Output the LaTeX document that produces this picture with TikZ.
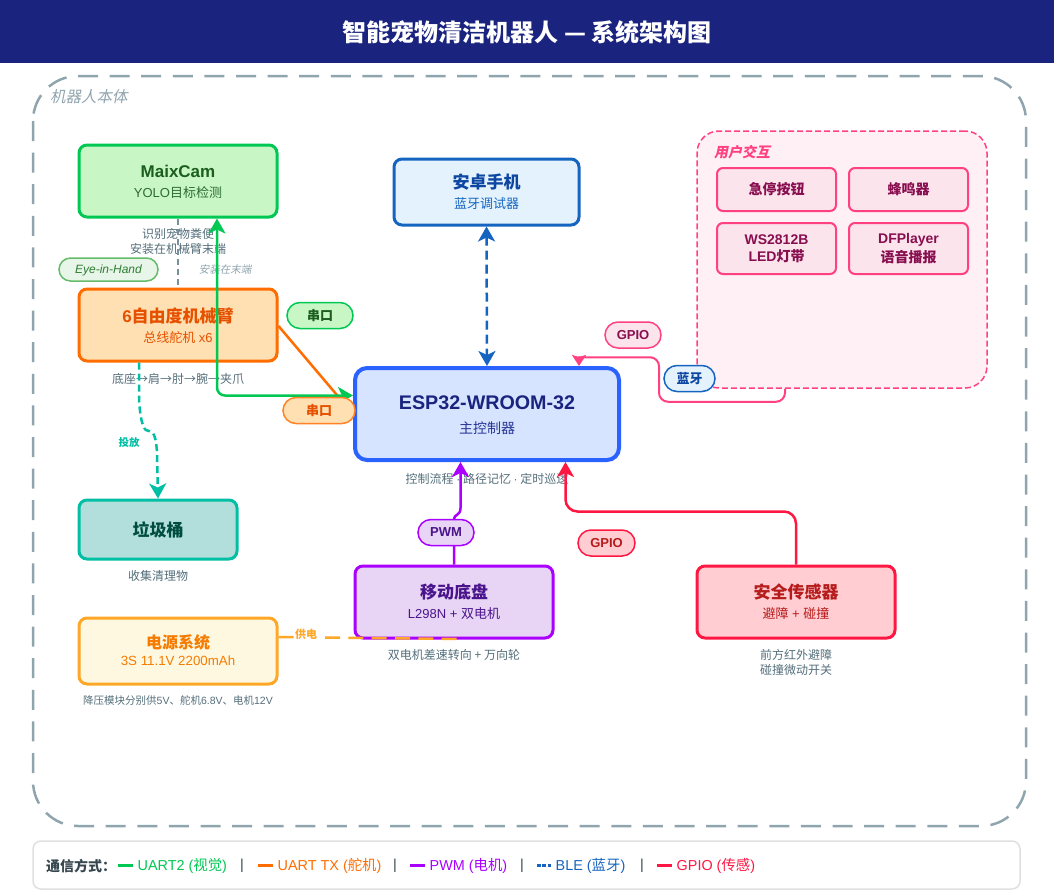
\documentclass[tikz,border=0pt]{standalone}
\usepackage{fontspec}
\setmainfont{Liberation Sans}
\newfontfamily\cjk{Noto Sans CJK SC}
\newfontfamily\cjki[FakeSlant=0.2]{Noto Sans CJK SC}
\newfontfamily\lat{Liberation Sans}
\usetikzlibrary{arrows.meta}
\newcommand\fsz[1]{\fontsize{#1}{#1}\selectfont}
\newcommand\zh[1]{{\cjk #1}}
\newcommand\la[1]{{\lat #1}}
\newcommand\lgdash{\rule[4pt]{15pt}{2.2pt}\hspace{4.5pt}}
\newcommand\lgdots{\rule[4pt]{3.6pt}{2.2pt}\hspace{1.6pt}\rule[4pt]{3.6pt}{2.2pt}\hspace{1.6pt}\rule[4pt]{3.6pt}{2.2pt}\hspace{4.5pt}}
\definecolor{cTitle}{HTML}{1A237E}
\definecolor{cBody}{HTML}{90A4AE}
\definecolor{cNote}{HTML}{546E7A}
\definecolor{cGreen}{HTML}{00C853}
\definecolor{cGreenF}{HTML}{C8F7C5}
\definecolor{cGreenD}{HTML}{1B5E20}
\definecolor{cGreenM}{HTML}{2E6B34}
\definecolor{cOrange}{HTML}{FF6D00}
\definecolor{cOrangeD}{HTML}{E65100}
\definecolor{cOrangeF}{HTML}{FFE0B2}
\definecolor{cBlue}{HTML}{1565C0}
\definecolor{cBlueD}{HTML}{0D47A1}
\definecolor{cBlueF}{HTML}{E3F2FD}
\definecolor{cEsp}{HTML}{2962FF}
\definecolor{cEspF}{HTML}{D6E4FF}
\definecolor{cEspS}{HTML}{283593}
\definecolor{cPink}{HTML}{FF4081}
\definecolor{cPinkF}{HTML}{FCE4EC}
\definecolor{cPinkBg}{HTML}{FFF0F5}
\definecolor{cMiniText}{HTML}{880E4F}
\definecolor{cPurple}{HTML}{AA00FF}
\definecolor{cPurpleD}{HTML}{4A148C}
\definecolor{cPurpleF}{HTML}{E8D5F5}
\definecolor{cRed}{HTML}{FF1744}
\definecolor{cRedD}{HTML}{B71C1C}
\definecolor{cRedF}{HTML}{FFCDD2}
\definecolor{cTeal}{HTML}{00BFA5}
\definecolor{cTealD}{HTML}{004D40}
\definecolor{cTealF}{HTML}{B2DFDB}
\definecolor{cAmber}{HTML}{FFA726}
\definecolor{cAmberT}{HTML}{F57C00}
\definecolor{cAmberF}{HTML}{FFF8E1}
\definecolor{cEyeF}{HTML}{E8F5E9}
\definecolor{cEyeS}{HTML}{66BB6A}
\definecolor{cEyeT}{HTML}{2E7D32}
\definecolor{cGrayL}{HTML}{78909C}
\definecolor{cSep}{HTML}{37474F}
\definecolor{cLegB}{HTML}{E0E0E0}
\tikzset{
  bx/.style={draw,rounded corners=8,line width=3,inner sep=0,align=center,anchor=center},
  mini/.style={draw=cPink,fill=cPinkF,rounded corners=6,line width=2,inner sep=0,align=center,text=cMiniText,font=\cjk\bfseries\fsz{14}},
  pill/.style={draw,rounded corners=13,line width=1.5,minimum height=26,inner sep=0,font=\cjk\bfseries\fsz{13}},
  note/.style={inner sep=0,text=cNote,align=center,font=\cjk\fsz{12}},
  lg/.style={inner sep=0,anchor=west,font=\fsz{14.4}},
  tipa/.style={-{Stealth[length=15pt,width=17pt,inset=4pt]}},
  tipb/.style={{Stealth[length=15pt,width=17pt,inset=4pt]}-{Stealth[length=15pt,width=17pt,inset=4pt]}},
}
\begin{document}
\begin{tikzpicture}[x=1pt,y=-1pt]
\useasboundingbox (0,0) rectangle (1054,891);
% title
\fill[cTitle] (0,0) rectangle (1054,63);
\node[text=white,inner sep=0,font=\cjk\bfseries\fsz{24}] (title) at (527,32) {智能宠物清洁机器人 — 系统架构图};
% body
\draw[cBody,line width=2.5,dash pattern=on 20pt off 11.6pt,rounded corners=45] (33,76) rectangle (1026,826);
\node[inner sep=0,anchor=west,text=cBody,font=\cjki\fsz{15.5}] (bodyl) at (50,97) {机器人本体};
% notes
\node[note] (n1) at (178,241.5) {识别宠物粪便\\[3pt]安装在机械臂末端};
\node[note] (n2) at (178,379) {底座→肩→肘→腕→夹爪};
\node[note] (n3) at (487,479) {控制流程 \la{·} 路径记忆 \la{·} 定时巡逻};
\node[note] (n4) at (158,576) {收集清理物};
\node[note] (n5) at (454,655) {双电机差速转向 + 万向轮};
\node[note] (n6) at (796,662.5) {前方红外避障\\[3pt]碰撞微动开关};
\node[note,font=\cjk\fsz{10.5}] (n7) at (178,701) {降压模块分别供\la{5V}、舵机\la{6.8V}、电机\la{12V}};
\node[inner sep=0,text=cBody,font=\cjki\fsz{10.5}] (n8) at (225,270) {安装在末端};
% boxes
\node[bx,draw=cGreen,fill=cGreenF,minimum width=198,minimum height=72] (maix) at (178,181) {};
\node[inner sep=0,text=cGreenD,font=\bfseries\fsz{17}] (maixa) at (178,171) {MaixCam};
\node[inner sep=0,text=cGreenM,font=\fsz{13}] (maixb) at (178,193) {YOLO\zh{目标检测}};
\node[bx,draw=cOrange,fill=cOrangeF,minimum width=198,minimum height=72] (arm) at (178,325) {};
\node[inner sep=0,text=cOrangeD,font=\bfseries\fsz{17}] (arma) at (178,316) {6\zh{自由度机械臂}};
\node[inner sep=0,text=cOrangeD,font=\fsz{13}] (armb) at (178,338) {\zh{总线舵机} x6};
\node[bx,draw=cBlue,fill=cBlueF,minimum width=185,minimum height=66] (phone) at (486.5,192) {};
\node[inner sep=0,text=cBlueD,font=\cjk\bfseries\fsz{17}] (phonea) at (486.5,182) {安卓手机};
\node[inner sep=0,text=cBlue,font=\cjk\fsz{13}] (phoneb) at (486.5,204) {蓝牙调试器};
\node[bx,draw=cEsp,fill=cEspF,line width=4,rounded corners=12,minimum width=264,minimum height=92] (esp) at (487,414) {};
\node[inner sep=0,text=cTitle,font=\bfseries\fsz{19.7}] (espa) at (487,403) {ESP32-WROOM-32};
\node[inner sep=0,text=cEspS,font=\cjk\fsz{14}] (espb) at (487,428) {主控制器};
\node[bx,draw=cTeal,fill=cTealF,minimum width=158,minimum height=59] (bin) at (158,529.5) {};
\node[inner sep=0,text=cTealD,font=\cjk\bfseries\fsz{17}] (bina) at (158,530) {垃圾桶};
\node[bx,draw=cPurple,fill=cPurpleF,minimum width=198,minimum height=72] (chassis) at (454,602) {};
\node[inner sep=0,text=cPurpleD,font=\cjk\bfseries\fsz{17}] (chassisa) at (454,592) {移动底盘};
\node[inner sep=0,text=cPurpleD,font=\fsz{13}] (chassisb) at (454,614) {L298N + \zh{双电机}};
\node[bx,draw=cRed,fill=cRedF,minimum width=198,minimum height=72] (safe) at (796,602) {};
\node[inner sep=0,text=cRedD,font=\cjk\bfseries\fsz{17}] (safea) at (796,592) {安全传感器};
\node[inner sep=0,text=cRedD,font=\fsz{13}] (safeb) at (796,614) {\zh{避障} + \zh{碰撞}};
\node[bx,draw=cAmber,fill=cAmberF,minimum width=198,minimum height=66] (power) at (178,651) {};
\node[inner sep=0,text=cAmberT,font=\cjk\bfseries\fsz{16}] (powera) at (178,642) {电源系统};
\node[inner sep=0,text=cAmberT,font=\fsz{13.3}] (powerb) at (178,661) {3S 11.1V 2200mAh};
% user group
\node[draw=cPink,fill=cPinkBg,dash pattern=on 6pt off 3pt,line width=1.5,rounded corners=22,inner sep=0,minimum width=290,minimum height=257] (ui) at (842,259.5) {};
\node[inner sep=0,anchor=west,text=cPink,font=\cjki\bfseries\fsz{14}] (uil) at (714,152) {用户交互};
\node[mini,minimum width=119,minimum height=43] (m1) at (776.5,189.5) {急停按钮};
\node[mini,minimum width=119,minimum height=43] (m2) at (908.5,189.5) {蜂鸣器};
\node[mini,minimum width=119,minimum height=51] (m3) at (776.5,248.5) {\la{WS2812B}\\[3pt]\la{LED}灯带};
\node[mini,minimum width=119,minimum height=51] (m4) at (908.5,248.5) {\la{DFPlayer}\\[3pt]语音播报};
% connectors
\draw[cGrayL,line width=2,dash pattern=on 6pt off 4pt] (maix.south) -- (arm.north);
\draw[cTeal,line width=2.5,dash pattern=on 7pt off 4pt,tipa] ([xshift=-39pt]arm.south) -- (139,400) .. controls (141,428) and (145,431) .. (149,431) .. controls (155,432) and (156,440) .. (157,452) -- (bin.north);
\draw[cOrange,line width=2.5] ([yshift=-1pt]arm.east) -- (esp.west);
\draw[cGreen,line width=2.5,rounded corners=8,tipb] ([yshift=18.5pt]esp.west) -| ([xshift=39pt]maix.south);
\draw[cBlue,line width=2.5,dash pattern=on 9pt off 5pt,tipb] (phone.south) -- (esp.north);
\draw[cPink,line width=2,rounded corners=9,-{Stealth[length=11pt,width=14pt,inset=2pt]}] ([xshift=-57pt]ui.south) -- ++(0,13) -- ++(-126,0) -- ++(0,-44.5) [sharp corners] -| ([xshift=92pt]esp.north);
\draw[cPurple,line width=2.5,tipa] (chassis.north) -- (454,519) .. controls (454,514) and (460.5,516) .. (460.5,508) -- ([xshift=-26.5pt]esp.south);
\draw[cRed,line width=2.5,rounded corners=12,tipa] (safe.north) -- ++(0,-53) -| ([xshift=78.5pt]esp.south);
\draw[cAmber,line width=2.5,dash pattern=on 15pt off 8.3pt] ([yshift=14pt]power.east) -- ([xshift=4pt,yshift=0.5pt]chassis.south);
% pills
\node[pill,draw=cGreen,fill=cGreenF,text=cGreenD,minimum width=66] (p1) at (320,315.5) {串口};
\node[pill,draw=cOrange!85!white,fill=cOrangeF,text=cOrangeD,minimum width=72] (p2) at (319,410.5) {串口};
\node[pill,draw=cPink,fill=cPinkF,text=cMiniText,minimum width=56,font=\bfseries\fsz{13}] (p3) at (633,335) {GPIO};
\node[pill,draw=cBlue,fill=cBlueF,text=cBlueD,minimum width=51] (p4) at (689.5,378.5) {蓝牙};
\node[pill,draw=cPurple,fill=cPurpleF,text=cPurpleD,minimum width=56,font=\bfseries\fsz{13}] (p5) at (446,532.5) {PWM};
\node[pill,draw=cRed,fill=cRedF,text=cRedD,minimum width=57,font=\bfseries\fsz{13}] (p6) at (606.5,543) {GPIO};
\node[draw=cEyeS,fill=cEyeF,line width=1.5,rounded corners=11.5,minimum width=99,minimum height=23,inner sep=0,text depth=0pt,text=cEyeT,font=\itshape\fsz{12}] (p7) at (108.5,269.5) {Eye-in-Hand};
% edge labels
\node[fill=white,inner sep=1.5pt,text=cAmber,font=\cjk\bfseries\fsz{11}] (l1) at (306,634) {供电};
\node[fill=white,inner sep=1pt,text=cTeal,font=\cjk\bfseries\fsz{10.5}] (l2) at (129,442) {投放};
% legend
\node[draw=cLegB,fill=white,line width=1.5,rounded corners=8,minimum width=987,minimum height=48,inner sep=0] (legend) at (526.5,865) {};
\node[lg,text=cSep,font=\cjk\bfseries\fsz{14}] (g0) at (46,866) {通信方式：};
\node[lg,text=cGreen] (g1) at (118,866) {\lgdash UART2 (\zh{视觉})};
\node[lg,text=cSep] (s1) at (240,866) {|};
\node[lg,text=cOrange] (g2) at (258,866) {\lgdash UART TX (\zh{舵机})};
\node[lg,text=cSep] (s2) at (393,866) {|};
\node[lg,text=cPurple] (g3) at (410,866) {\lgdash PWM (\zh{电机})};
\node[lg,text=cSep] (s3) at (520,866) {|};
\node[lg,text=cBlue] (g4) at (537,866) {\lgdots BLE (\zh{蓝牙})};
\node[lg,text=cSep] (s4) at (640,866) {|};
\node[lg,text=cRed] (g5) at (657,866) {\lgdash GPIO (\zh{传感})};
\end{tikzpicture}
\end{document}
